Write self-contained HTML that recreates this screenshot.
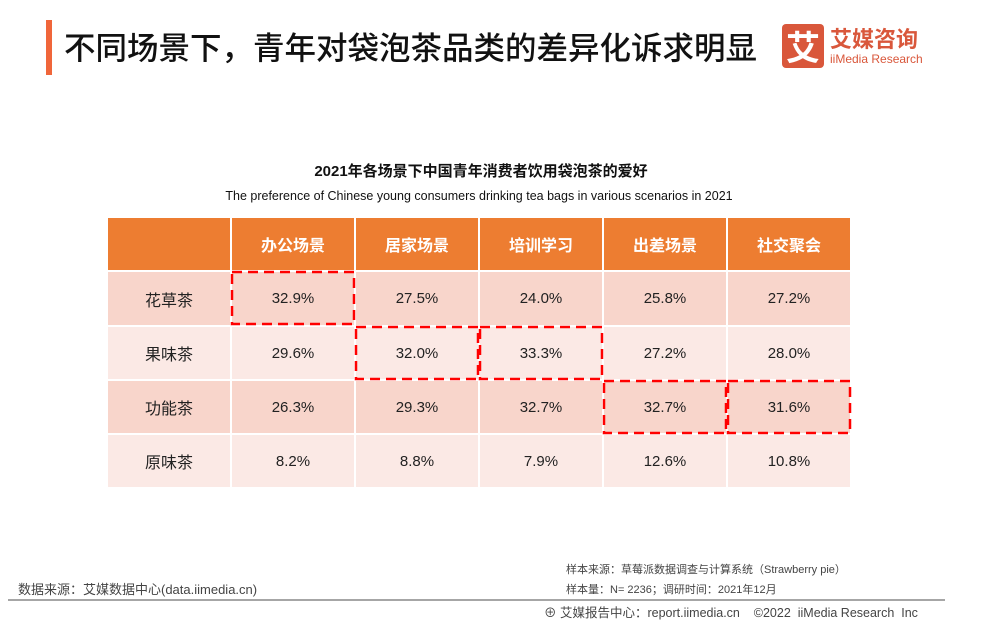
<!DOCTYPE html>
<html><head><meta charset="utf-8"><style>
body{margin:0;width:986px;height:642px;background:#fff;position:relative;overflow:hidden;font-family:"Liberation Sans","Noto Sans CJK SC",sans-serif;}
.a{position:absolute;white-space:nowrap}
.c{position:absolute;display:flex;align-items:center;justify-content:center;font-size:15px;color:#222}
.h{color:#fff;font-weight:bold;font-size:16px;background:#ED7D31}
</style></head><body>
<div class="a" style="left:46px;top:20px;width:6px;height:55px;background:#F0663A"></div>
<div class="a" style="left:64px;top:23px;font-size:31.5px;color:#111;font-weight:500;font-family:'Noto Sans CJK SC',sans-serif;">不同场景下，青年对袋泡茶品类的差异化诉求明显</div>
<div class="a" style="left:782px;top:24px;width:42px;height:44px;background:#D9573B;border-radius:4px;color:#fff;font-size:34px;font-weight:bold;line-height:44px;text-align:center;font-family:'Noto Sans CJK SC',sans-serif;">艾</div>
<div class="a" style="left:830px;top:22px;font-size:22px;color:#D9573B;font-weight:bold;font-family:'Noto Sans CJK SC',sans-serif;">艾媒咨询</div>
<div class="a" style="left:830px;top:52px;font-size:12px;color:#D9573B;">iiMedia Research</div>
<div class="a" style="left:0;width:986px;top:160px;text-align:center;font-size:15px;font-weight:bold;color:#111;"><span style="position:relative;left:-12px">2021年各场景下中国青年消费者饮用袋泡茶的爱好</span></div>
<div class="a" style="left:0;width:986px;top:189px;text-align:center;font-size:12.5px;color:#111;"><span style="position:relative;left:-14px">The preference of Chinese young consumers drinking tea bags in various scenarios in 2021</span></div>

<div class="c h" style="left:108px;top:218px;width:122px;height:52px"></div>
<div class="c h" style="left:232px;top:218px;width:122px;height:52px">办公场景</div>
<div class="c h" style="left:356px;top:218px;width:122px;height:52px">居家场景</div>
<div class="c h" style="left:480px;top:218px;width:122px;height:52px">培训学习</div>
<div class="c h" style="left:604px;top:218px;width:122px;height:52px">出差场景</div>
<div class="c h" style="left:728px;top:218px;width:122px;height:52px">社交聚会</div>

<div id="rows"></div>
<script>
var d=[["花草茶","32.9%","27.5%","24.0%","25.8%","27.2%"],["果味茶","29.6%","32.0%","33.3%","27.2%","28.0%"],["功能茶","26.3%","29.3%","32.7%","32.7%","31.6%"],["原味茶","8.2%","8.8%","7.9%","12.6%","10.8%"]];
var tops=[272,327,381,435],hs=[53,52,52,52],h="";
for(var r=0;r<4;r++)for(var c=0;c<6;c++){
h+='<div class="c" style="left:'+(108+c*124)+'px;top:'+tops[r]+'px;width:122px;height:'+hs[r]+'px;background:'+(r%2?'#FBE9E5':'#F8D5CB')+(c==0?';font-size:16px':'')+'">'+d[r][c]+'</div>';}
document.getElementById('rows').innerHTML=h;
</script>
<svg class="a" style="left:0;top:0" width="986" height="642">
<g fill="none" stroke="#FF0000" stroke-width="2.5" stroke-dasharray="10,6">
<rect x="232" y="272" width="122" height="52"/>
<rect x="356" y="327" width="122" height="52"/>
<rect x="480" y="327" width="122" height="52"/>
<rect x="604" y="381" width="122" height="52"/>
<rect x="728" y="381" width="122" height="52"/>
</g>
<line x1="8" y1="600" x2="945" y2="600" stroke="#888" stroke-width="1.5"/>
</svg>
<div class="a" style="left:18px;top:579px;font-size:13px;color:#444;">数据来源：艾媒数据中心(data.iimedia.cn)</div>
<div class="a" style="left:566px;top:561px;font-size:11px;color:#444;">样本来源：草莓派数据调查与计算系统（Strawberry pie）</div>
<div class="a" style="left:566px;top:581px;font-size:11px;color:#444;">样本量：N= 2236；调研时间：2021年12月</div>
<div class="a" style="left:544px;top:602px;font-size:12.5px;color:#444;">⊕ 艾媒报告中心：report.iimedia.cn &nbsp;&nbsp; ©2022 &nbsp;iiMedia Research &nbsp;Inc</div>
</body></html>
